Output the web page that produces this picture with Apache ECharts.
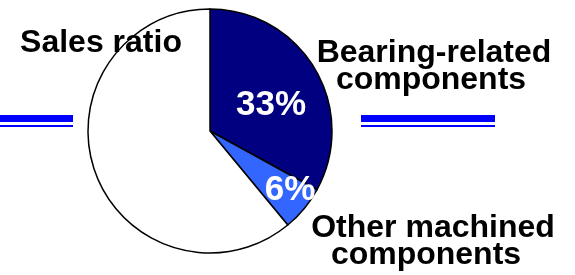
<!DOCTYPE html>
<html>
<head>
<meta charset="utf-8">
<script src="https://cdn.jsdelivr.net/npm/echarts@6/dist/echarts.min.js"></script>
<style>
  html, body { margin: 0; padding: 0; background: #fff; }
  #main { width: 575px; height: 275px; }
</style>
</head>
<body>
<div id="main"></div>
<script>
// sales ratio data (percent)
var categories = ['Bearing-related components', 'Other machined components', 'Other'];
var shares = [33, 6, 61];
var sliceColors = ['#000080', '#3366ff', '#ffffff'];

var FONT = 'bold 32px "Liberation Sans", Arial, sans-serif';
var PCT_FONT = 'bold 35px "Liberation Sans", Arial, sans-serif';

var myChart = echarts.init(document.getElementById('main'));

function txt(text, x, y, fill, font) {
    return {
        type: 'text',
        z: 10,
        style: {
            text: text, x: x, y: y, fill: fill || '#000',
            font: font || FONT, align: 'center', verticalAlign: 'middle'
        }
    };
}

myChart.setOption({
    animation: false,
    graphic: [
        // blue double bars left / right
        { type: 'rect', shape: { x: 0, y: 115, width: 73, height: 7 }, style: { fill: '#0000ff' } },
        { type: 'rect', shape: { x: 0, y: 125, width: 73, height: 2 }, style: { fill: '#0000ff' } },
        { type: 'rect', shape: { x: 361, y: 115, width: 134, height: 7 }, style: { fill: '#0000ff' } },
        { type: 'rect', shape: { x: 361, y: 125, width: 134, height: 2 }, style: { fill: '#0000ff' } },
        txt('Sales ratio', 101, 43),
        txt('Bearing-related', 434, 53),
        txt('components', 431, 80),
        txt('Other machined', 433, 228),
        txt('components', 426, 255),
        txt(shares[0] + '%', 271, 105, '#fff', PCT_FONT),
        txt(shares[1] + '%', 290, 190, '#fff', PCT_FONT)
    ],
    series: [{
        type: 'pie',
        silent: true,
        center: [210, 131],
        radius: 122,
        startAngle: 90,
        clockwise: true,
        label: { show: false },
        labelLine: { show: false },
        itemStyle: { borderColor: '#000', borderWidth: 1.5 },
        data: categories.map(function (c, i) {
            return { name: c, value: shares[i], itemStyle: { color: sliceColors[i] } };
        })
    }]
});
</script>
</body>
</html>
